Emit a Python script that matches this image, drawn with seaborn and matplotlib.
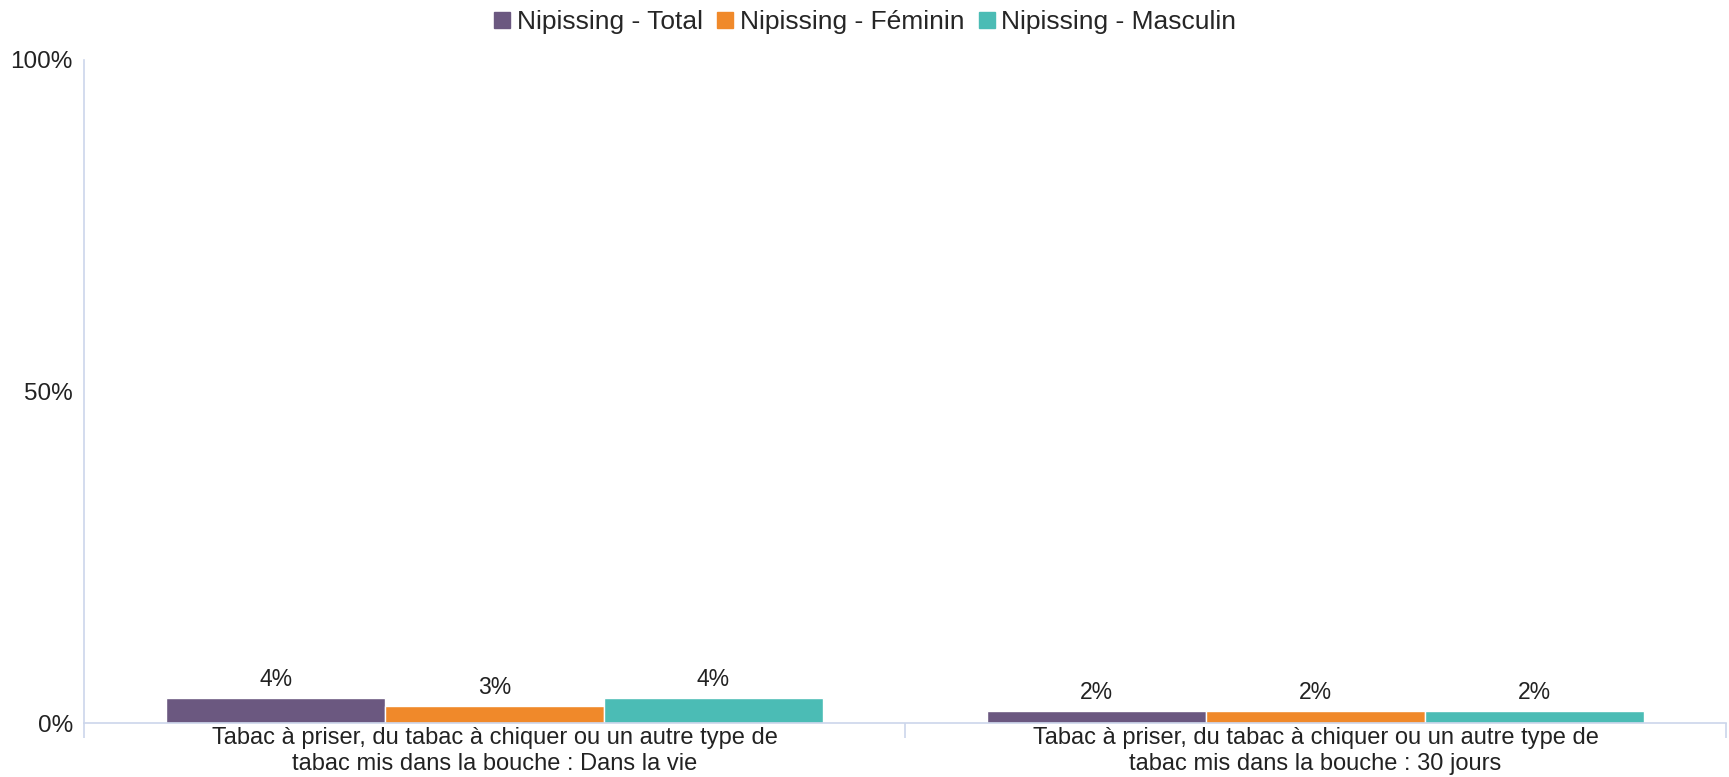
import pandas as pd
import numpy as np
import matplotlib
matplotlib.use("Agg")
import matplotlib.pyplot as plt
import seaborn as sns
from matplotlib.lines import Line2D

# data
categories = ["Tabac à priser, du tabac à chiquer ou un autre type de\ntabac mis dans la bouche : Dans la vie",
              "Tabac à priser, du tabac à chiquer ou un autre type de\ntabac mis dans la bouche : 30 jours"]
series = ["Nipissing - Total", "Nipissing - Féminin", "Nipissing - Masculin"]
total = [3.8, 1.8]
feminin = [2.6, 1.8]
masculin = [3.8, 1.8]
colors = ["#6b5880", "#f0892a", "#4bbcb5"]

df = pd.DataFrame({
    "Categorie": categories * 3,
    "Serie": [s for s in series for _ in categories],
    "Valeur": total + feminin + masculin,
})

sns.set_theme(style="white")
plt.rcParams['font.family'] = ['Liberation Sans', 'DejaVu Sans']

fig = plt.figure(figsize=(17.29, 7.77), dpi=100)
ax = fig.add_axes([84/1729, 54/777, 1642/1729, 663/777])

sns.barplot(data=df, x="Categorie", y="Valeur", hue="Serie", order=categories,
            hue_order=series, palette=colors, width=0.8, edgecolor="white",
            linewidth=1, saturation=1, ax=ax, legend=False)

# data labels
for cont in ax.containers:
    labels = [f"{round(b.get_height())}%" for b in cont]
    ax.bar_label(cont, labels=labels, padding=5, fontsize=16.5, color="#222222")

ax.set_ylim(0, 100)
ax.set_xlim(-0.5, 1.5)
ax.set_yticks([0, 50, 100])
ax.set_yticklabels(["0%", "50%", "100%"], fontsize=17.5, color="#222222")
ax.set_xticks([0, 1])
ax.set_xticklabels(categories, fontsize=17, color="#222222", linespacing=1.25)
ax.set_xticks([-0.5, 0.5, 1.5], minor=True)
ax.tick_params(axis="x", which="major", length=0, pad=3)
ax.tick_params(axis="x", which="minor", bottom=True, length=11, width=1.2,
               color="#ccd6eb", direction="out")
ax.tick_params(axis="y", length=0, pad=8)
ax.set_xlabel("")
ax.set_ylabel("")

for s in ["top", "right"]:
    ax.spines[s].set_visible(False)
ax.spines["left"].set_color("#ccd6eb")
ax.spines["bottom"].set_color("#ccd6eb")
ax.spines["left"].set_linewidth(1.2)
ax.spines["bottom"].set_linewidth(1.2)
ax.grid(False)

handles = [Line2D([0], [0], marker="s", linestyle="", markersize=11,
                  markerfacecolor=c, markeredgecolor=c) for c in colors]
fig.legend(handles, series, loc="center", bbox_to_anchor=(0.5, 0.972), ncol=3,
           frameon=False, fontsize=19, handletextpad=0.2, columnspacing=0.5,
           handlelength=0.7)

fig.savefig("out.png", dpi=100)
